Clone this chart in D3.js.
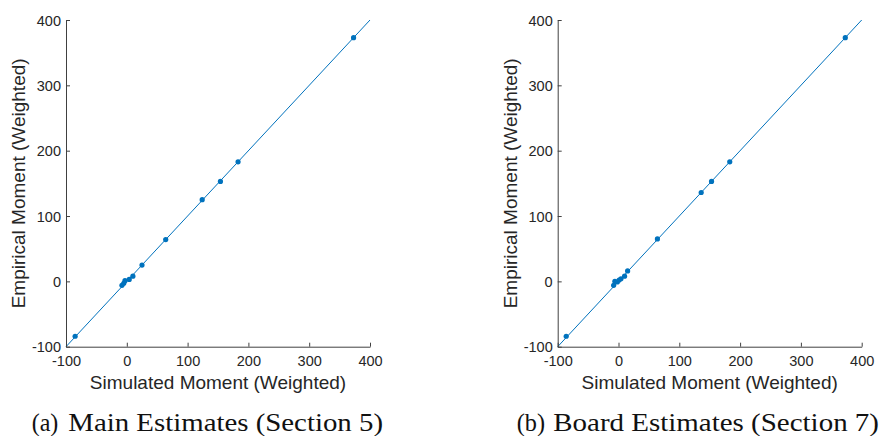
<!DOCTYPE html>
<html>
<head>
<meta charset="utf-8">
<script src="https://cdn.jsdelivr.net/npm/d3@7"></script>
<style>
  html, body { margin: 0; padding: 0; background: #ffffff; }
  svg { display: block; }
</style>
</head>
<body>
<svg id="chart" width="882" height="436"></svg>
<script>
// Moments: simulated (x) against empirical (y), weighted
const mainSimulated  = [-85, -8, -5, -3, 4, 10, 25, 64, 124, 154, 183, 373];
const mainEmpirical  = [-84, -6, -3, 1, 3, 8, 25, 64, 125, 153, 183, 373];
const boardSimulated = [-86, -8, -6, -2, 1, 4, 10, 15, 64, 136, 153, 183, 373];
const boardEmpirical = [-84, -6, 0, -1, 2, 4, 8, 16, 65, 136, 153, 183, 373];

const axisTicks = [-100, 0, 100, 200, 300, 400];
const axisDomain = [-100, 400];

const xLabel = "Simulated Moment (Weighted)";
const yLabel = "Empirical Moment (Weighted)";

const panelTags = ["(a)", "(b)"];
const panelTitles = ["Main Estimates (Section 5)", "Board Estimates (Section 7)"];

const panels = [
  { sim: mainSimulated, emp: mainEmpirical, tag: panelTags[0], title: panelTitles[0],
    left: 66, tagX: 31.7, tagW: 26.6, titleX: 68.3, titleW: 314.7 },
  { sim: boardSimulated, emp: boardEmpirical, tag: panelTags[1], title: panelTitles[1],
    left: 557.7, tagX: 516.7, tagW: 28.3, titleX: 553.3, titleW: 325.7 }
];

const plotW = 304, plotTop = 20, plotBottom = 346.7;
const blue = "#0072BD", ink = "#262626";
const sans = "'Liberation Sans', Arial, Helvetica, sans-serif";
const serif = "'Liberation Serif', 'Times New Roman', serif";
// plain hyphen for negative tick labels
const tickFmt = d => String(d);

const svg = d3.select("#chart");

panels.forEach(p => {
  const x = d3.scaleLinear().domain(axisDomain).range([p.left, p.left + plotW]);
  const y = d3.scaleLinear().domain(axisDomain).range([plotBottom, plotTop]);
  const g = svg.append("g");

  // 45-degree reference line
  g.append("line")
    .attr("x1", x(axisDomain[0])).attr("y1", y(axisDomain[0]))
    .attr("x2", x(axisDomain[1])).attr("y2", y(axisDomain[1]))
    .attr("stroke", blue).attr("stroke-width", 1);

  // moment points
  g.selectAll("circle.pt")
    .data(p.sim.map((s, i) => ({ s, e: p.emp[i] })))
    .join("circle")
    .attr("class", "pt")
    .attr("cx", d => x(d.s)).attr("cy", d => y(d.e))
    .attr("r", 2.6).attr("fill", blue);

  // axes with inward ticks
  const xAxis = g.append("g")
    .attr("transform", `translate(0,${plotBottom})`)
    .call(d3.axisBottom(x).tickValues(axisTicks).tickFormat(tickFmt)
      .tickSize(-4).tickSizeOuter(0).tickPadding(0));
  const yAxis = g.append("g")
    .attr("transform", `translate(${p.left},0)`)
    .call(d3.axisLeft(y).tickValues(axisTicks).tickFormat(tickFmt)
      .tickSize(-4).tickSizeOuter(0).tickPadding(0));

  [xAxis, yAxis].forEach(a => {
    a.select(".domain").attr("stroke", "#404040").attr("stroke-width", 1);
    a.selectAll(".tick line").attr("stroke", "#404040");
    a.selectAll(".tick text").attr("fill", ink)
      .attr("font-family", sans).attr("font-size", 14.5);
  });
  xAxis.selectAll(".tick text").attr("y", 19).attr("dy", 0);
  yAxis.selectAll(".tick text").attr("x", -5).attr("dy", "0.35em");

  // axis titles
  g.append("text")
    .attr("x", p.left + plotW / 2).attr("y", 389)
    .attr("text-anchor", "middle")
    .attr("font-family", sans).attr("font-size", 19).attr("fill", ink)
    .text(xLabel);
  g.append("text")
    .attr("transform", `translate(${p.left - 41},${(plotTop + plotBottom) / 2}) rotate(-90)`)
    .attr("text-anchor", "middle")
    .attr("font-family", sans).attr("font-size", 19).attr("fill", ink)
    .text(yLabel);

  // sub-caption
  g.append("text")
    .attr("x", p.tagX).attr("y", 431)
    .attr("font-family", serif).attr("font-size", 25).attr("fill", "#111")
    .attr("textLength", p.tagW).attr("lengthAdjust", "spacingAndGlyphs")
    .text(p.tag);
  g.append("text")
    .attr("x", p.titleX).attr("y", 431)
    .attr("font-family", serif).attr("font-size", 25).attr("fill", "#111")
    .attr("textLength", p.titleW).attr("lengthAdjust", "spacingAndGlyphs")
    .text(p.title);
});
</script>
</body>
</html>
